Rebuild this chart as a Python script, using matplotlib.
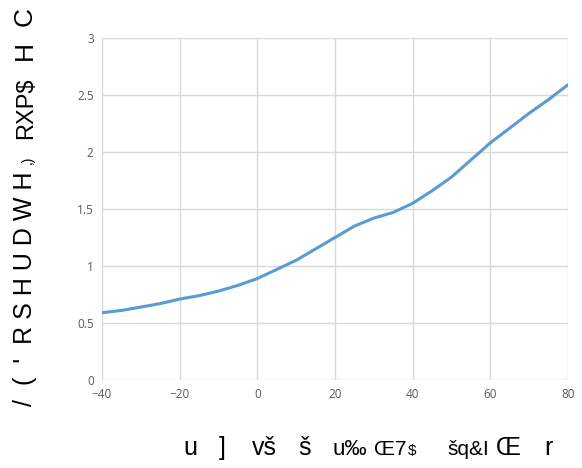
import matplotlib
matplotlib.use('Agg')
import matplotlib.pyplot as plt

# temperature (x) vs value (y), every 5 degrees
temps = [-40, -35, -30, -25, -20, -15, -10, -5, 0, 5, 10, 15, 20,
         25, 30, 35, 40, 45, 50, 55, 60, 65, 70, 75, 80]
values = [0.59, 0.61, 0.64, 0.67, 0.71, 0.74, 0.78, 0.83, 0.89, 0.97, 1.05, 1.15, 1.25,
          1.35, 1.42, 1.47, 1.55, 1.66, 1.78, 1.93, 2.08, 2.21, 2.34, 2.46, 2.59]

x_ticks = [-40, -20, 0, 20, 40, 60, 80]
y_ticks = [0, 0.5, 1, 1.5, 2, 2.5, 3]
y_tick_labels = ['0', '0.5', '1', '1.5', '2', '2.5', '3']

# axis titles as they show in the reference (broken font mapping)
y_title_parts = ["/  (  '  R S H U D W H", ',)', 'RXP$', 'H', 'C']
x_title_parts = ['u', ']', 'vš', 'š', 'u‰', 'Œ7', '$', 'šq&I', 'Œ', 'r']

W, H = 582, 468
fig = plt.figure(figsize=(W / 100, H / 100), dpi=100)
ax = fig.add_axes([102 / W, 1 - 380 / H, 466 / W, 342 / H])

ax.plot(temps, values, color='#5B9BD5', linewidth=2.2, solid_capstyle='round')

ax.set_xlim(-40, 80)
ax.set_ylim(0, 3)
ax.set_xticks(x_ticks)
ax.set_yticks(y_ticks)
ax.set_yticklabels(y_tick_labels)
ax.grid(True, color='#D9D9D9', linewidth=1)
ax.set_axisbelow(True)
for s in ax.spines.values():
    s.set_visible(False)
ax.tick_params(length=0, labelsize=8.5, labelcolor='#595959', pad=6)
for lab in ax.get_xticklabels() + ax.get_yticklabels():
    lab.set_fontfamily('Open Sans')

# y title, in pieces
tkw = dict(rotation=90, rotation_mode='anchor', ha='center', va='baseline',
           family='Liberation Sans', color='black')
y_pos = [289, 160, 108, 50, 17]
y_size = [18, 10, 17, 19, 19]
for txt, yy, fs in zip(y_title_parts, y_pos, y_size):
    fig.text(32 / W, 1 - yy / H, txt, fontsize=fs, **tkw)

# x title, in pieces
x_pos = [190, 222, 264, 305, 350, 390, 412, 468, 508, 548]
x_size = [18, 18, 18, 18, 16, 15, 11, 15, 18, 18]
for txt, xx, fs in zip(x_title_parts, x_pos, x_size):
    fig.text(xx / W, 1 - 455 / H, txt, ha='center', va='baseline', fontsize=fs,
             family='Liberation Sans', color='black')

fig.savefig('out.png', dpi=100)
